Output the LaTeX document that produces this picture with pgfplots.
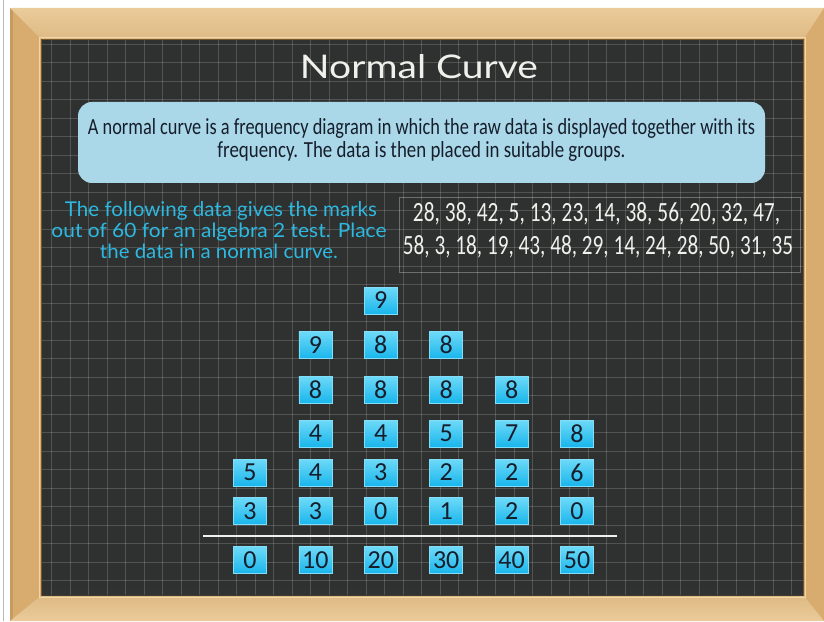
\documentclass[border=0pt]{standalone}
\usepackage{pgfplots}
\pgfplotsset{compat=1.18}
\usepackage{pgfplotstable}
\usepackage{graphicx}
\usepackage{fontspec}
\setmainfont{Carlito}
\newfontfamily\titlefont{Lato}

\definecolor{woodside}{RGB}{216,172,110}
\definecolor{woodtop}{RGB}{234,203,154}
\definecolor{woodtopb}{RGB}{222,186,132}
\definecolor{woodlight}{RGB}{240,214,170}
\definecolor{wooddark}{RGB}{120,86,44}
\definecolor{board}{RGB}{46,49,47}
\definecolor{boxblue}{RGB}{170,216,232}
\definecolor{chalkcyan}{RGB}{45,185,225}
\definecolor{chalk}{RGB}{240,240,236}
\definecolor{ink}{RGB}{22,30,44}
\definecolor{cellTop}{RGB}{110,218,248}
\definecolor{cellBot}{RGB}{25,182,236}
\definecolor{cellEdge}{RGB}{130,222,248}

\tikzset{cellbox/.style={anchor=center, inner sep=0pt, minimum width=33pt,
  minimum height=27pt, top color=cellTop, bottom color=cellBot,
  draw=cellEdge, line width=0.5pt, text=ink, font=\fontsize{26}{26}\selectfont}}

% leaves: stem, row position (px from top), leaf digit
\pgfplotstableread{
stem ypos leaf
0  511   3
0  472.5 5
10 511   3
10 472.5 4
10 433.5 4
10 389.5 8
10 345   9
20 511   0
20 472.5 3
20 433.5 4
20 389.5 8
20 345   8
20 300.5 9
30 511   1
30 472.5 2
30 433.5 5
30 389.5 8
30 345   8
40 511   2
40 472.5 2
40 433.5 7
40 389.5 8
50 511   0
50 472.5 6
50 433.5 8
}\leaves

\pgfplotstableread{
stem ypos
0  560
10 560
20 560
30 560
40 560
50 560
}\stems

\begin{document}
\begin{tikzpicture}
\useasboundingbox (0,0) rectangle (824pt,621pt);
\begin{scope}[yshift=621pt, x=1pt, y=-1pt]
  \fill[white] (0,0) rectangle (824,621);
  \draw[gray!55, line width=0.8pt] (3,0) -- (3,621);
  % wooden frame: sides, then lighter top and bottom rails
  \fill[woodside] (10,8) rectangle (824,621);
  \fill[woodside!80!wooddark] (10,8) rectangle (13,621);
  \shade[top color=woodtop, bottom color=woodtopb] (10,8) -- (824,8) -- (803,40) -- (42,40) -- cycle;
  \shade[top color=woodtopb, bottom color=woodtop] (10,621) -- (824,621) -- (803,595) -- (42,595) -- cycle;
  \draw[woodlight, line width=1.5pt] (39.5,37.5) rectangle (805.5,597.5);
  \fill[wooddark] (41,39) rectangle (804,596);
  \fill[board] (42,40) rectangle (803,595);
  \shade[top color=board, bottom color=black!80, opacity=0.8] (42,578) rectangle (803,595);
  % chalk grid
  \foreach \i in {0,...,40}
    \draw[white, opacity=0.17, line width=0.7pt] ({51.7+18.5*\i},40) -- ({51.7+18.5*\i},595);
  \foreach \j in {0,...,29}
    \draw[white, opacity=0.17, line width=0.7pt] (42,{44.2+18.5*\j}) -- (803,{44.2+18.5*\j});

  % title
  \node[anchor=base, text=chalk] at (419,79) {\resizebox{238pt}{24pt}{\titlefont Normal Curve}};

  % definition box
  \fill[boxblue, rounded corners=14pt] (78,102) rectangle (765,183);
  \node[anchor=base, text=ink] at (421.5,135)
    {\resizebox{667pt}{16pt}{A normal curve is a frequency diagram in which the raw data is displayed together with its}};
  \node[anchor=base, text=ink] at (421.5,158)
    {\resizebox{408pt}{16pt}{frequency. The data is then placed in suitable groups.}};

  % task text
  \node[anchor=base, text=chalkcyan] at (221,216.7) {\resizebox{312pt}{15pt}{\titlefont The following data gives the marks}};
  \node[anchor=base, text=chalkcyan] at (219,237.3) {\resizebox{335pt}{14.5pt}{\titlefont out of 60 for an algebra 2 test. Place}};
  \node[anchor=base, text=chalkcyan] at (219,258.3) {\resizebox{238pt}{14.5pt}{\titlefont the data in a normal curve.}};

  % raw data
  \draw[white, opacity=0.3, line width=0.6pt] (399,197.5) rectangle (800,272);
  \node[anchor=base, text=chalk] at (596.5,222) {\resizebox{367pt}{19pt}{28, 38, 42, 5, 13, 23, 14, 38, 56, 20, 32, 47,}};
  \node[anchor=base, text=chalk] at (598,255) {\resizebox{390pt}{19pt}{58, 3, 18, 19, 43, 48, 29, 14, 24, 28, 50, 31, 35}};
\end{scope}

\begin{axis}[
    at={(0,0)}, anchor=south west,
    width=824pt, height=621pt, scale only axis,
    xmin=-38.226, xmax=87.768,
    ymin=0, ymax=621, y dir=reverse,
    hide axis, clip=false,
]
% base line
\addplot[chalk, line width=2pt] coordinates {(-7.2,536) (56.1,536)};

% leaves
\addplot[only marks, mark=square*, mark size=10pt,
    mark options={draw=cellBot, fill=cellBot},
    point meta=explicit symbolic,
    nodes near coords={\pgfplotspointmeta},
    every node near coord/.append style={cellbox}]
    table[x=stem, y=ypos, meta=leaf] {\leaves};

% stems
\addplot[only marks, mark=square*, mark size=10pt,
    mark options={draw=cellBot, fill=cellBot},
    point meta=explicit symbolic,
    nodes near coords={\pgfplotspointmeta},
    every node near coord/.append style={cellbox}]
    table[x=stem, y=ypos, meta=stem] {\stems};
\end{axis}
\end{tikzpicture}
\end{document}
